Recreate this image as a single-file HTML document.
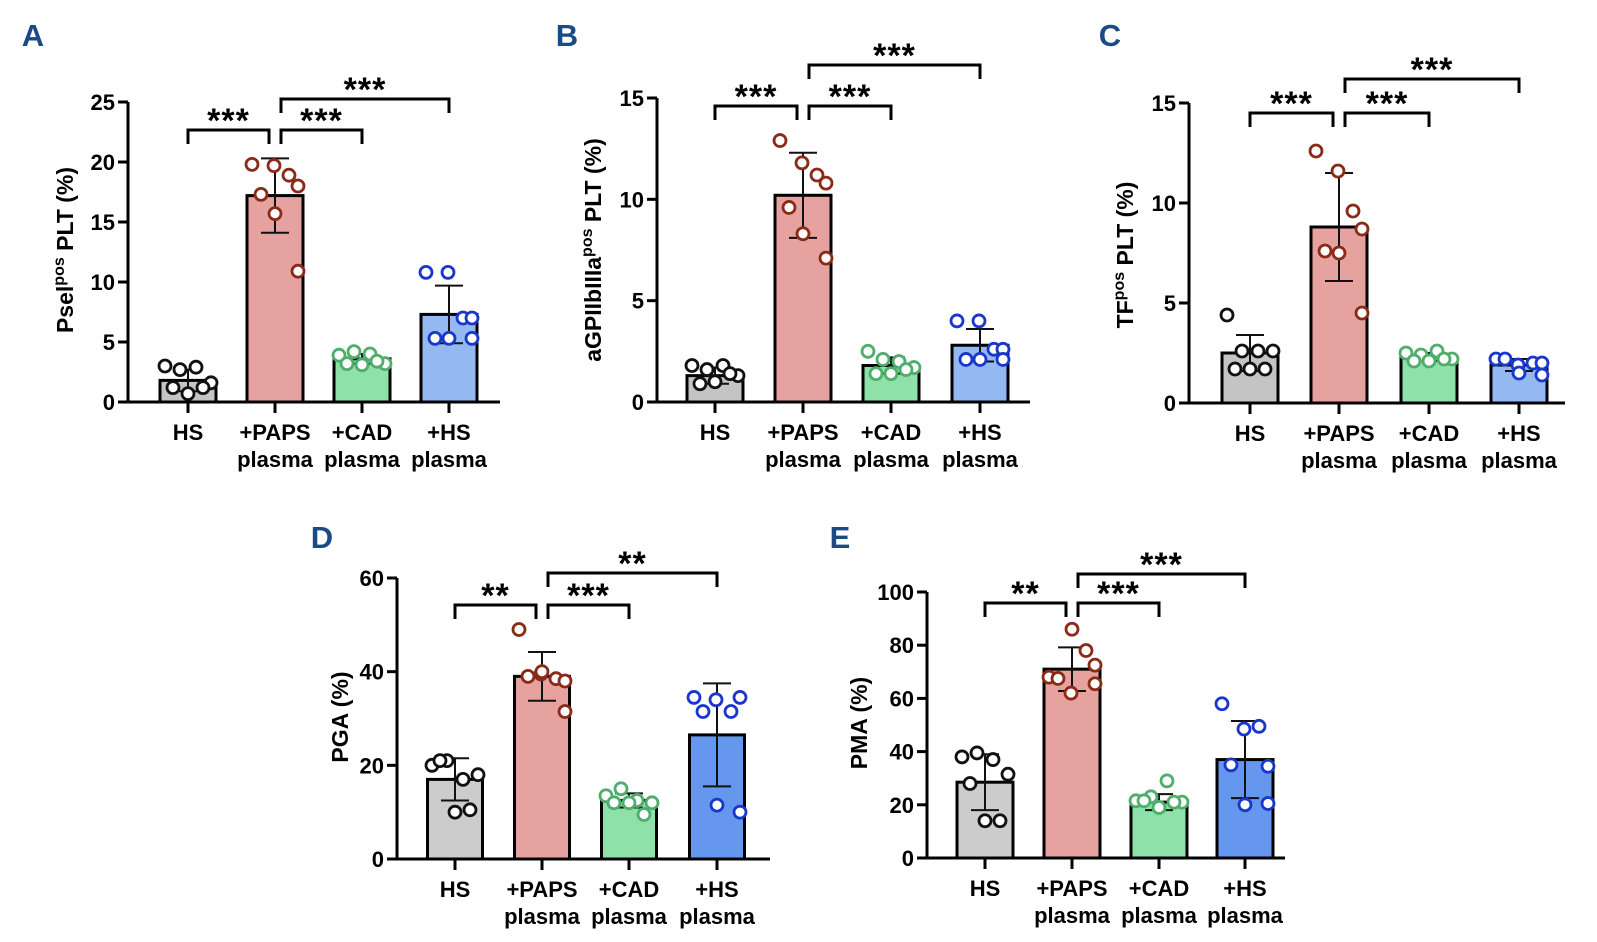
<!DOCTYPE html>
<html><head><meta charset="utf-8"><style>
body{margin:0;background:#fff;}
svg{display:block;font-family:"Liberation Sans",Arial,sans-serif;font-weight:bold;}
</style></head><body>
<svg id="fig" width="1597" height="942" viewBox="0 0 1597 942" xmlns="http://www.w3.org/2000/svg"></svg>
<script>
const categories = ["HS", "+PAPS plasma", "+CAD plasma", "+HS plasma"];
// Panel A
const meansA = [1.8, 17.2, 3.6, 7.3];
const sdA = [0.9, 3.1, 0.4, 2.4];
const ptsA = [[3.0,2.7,2.9,1.6,1.2,0.7,1.2],[19.8,19.7,18.9,18.0,17.3,15.7,10.9],[3.9,4.2,4.0,3.2,3.2,3.1,3.4],[10.8,10.8,7.0,7.0,5.3,5.3,5.3]];
const ticksA = [0,5,10,15,20,25];
// Panel B
const meansB = [1.3, 10.2, 1.8, 2.8];
const sdB = [0.4, 2.1, 0.4, 0.8];
const ptsB = [[1.8,1.6,1.8,1.3,0.9,1.0,1.4],[12.9,11.8,11.2,10.8,9.6,8.3,7.1],[2.5,2.1,2.0,1.7,1.4,1.4,1.6],[4.0,4.0,2.6,2.6,2.1,2.1,2.1]];
const ticksB = [0,5,10,15];
// Panel C
const meansC = [2.5, 8.8, 2.3, 1.9];
const sdC = [0.9, 2.7, 0.2, 0.3];
const ptsC = [[4.4,2.6,2.6,2.6,1.7,1.7,1.7],[12.6,11.6,9.6,8.7,7.6,7.5,4.5],[2.5,2.4,2.6,2.2,2.1,2.1,2.2],[2.2,1.9,2.0,2.0,2.2,1.5,1.4]];
const ticksC = [0,5,10,15];
// Panel D
const meansD = [17, 39, 12.5, 26.5];
const sdD = [4.5, 5.2, 1.5, 11];
const ptsD = [[20,21,17,18,21,10,10.5],[49,39.5,38.5,38,39,40,31.5],[13.5,15,12.5,12,12,12,9.5],[34.5,34,31.5,34.5,31.5,11.5,10]];
const ticksD = [0,20,40,60];
// Panel E
const meansE = [28.5, 71, 21, 37];
const sdE = [10.5, 8.2, 3, 14.5];
const ptsE = [[38,39.5,37,31.5,28,14,14],[68,62,78,72.5,67.5,86,65.5],[21.5,23,29,21,21.5,19,21],[58,48.5,49.5,34.5,35,20,20.5]];
const ticksE = [0,20,40,60,80,100];

const NS="http://www.w3.org/2000/svg";
const svg=document.getElementById('fig');
function mk(tag,attrs,parent){const e=document.createElementNS(NS,tag);for(const k in attrs)e.setAttribute(k,attrs[k]);(parent||svg).appendChild(e);return e;}
const jit=[[-23,-8,8,23,-15,0,15],[-23,-1,14,23,-14,0,23]];
const fills=["#c4c4c4","#e6a29f","#8ee2a9","#94b8f2"];
const fillsDE=["#cccccc","#e6a29f","#8ee2a9","#6597ee"];
const strokes=["#111","#8a2a17","#4fae6b","#1a37cc"];

function panel(cfg){
  const g=mk('g',{});
  
  
  const ymax=cfg.ticks[cfg.ticks.length-1];
  const Y=v=>cfg.y0-(v/ymax)*(cfg.y0-cfg.ytop);
  const X=i=>cfg.cx[i];
  const lt=mk('text',{x:cfg.lx,y:cfg.ly,'font-size':31,fill:'#1b4b86','text-anchor':'middle'},g);
  lt.textContent=cfg.letter;
  
  
  for(let i=0;i<4;i++){
    const w=cfg.bw;
    const b=mk('rect',{x:X(i)-w/2,y:Y(cfg.means[i]),width:w,height:cfg.y0-Y(cfg.means[i]),fill:cfg.fills[i],stroke:'#000','stroke-width':3},g);
    
    
  }
  for(let i=0;i<4;i++){
    const m=cfg.means[i],s=cfg.sd[i];
    const e=mk('path',{d:`M${X(i)} ${Y(m+s)}V${Y(m-s)}M${X(i)-14} ${Y(m+s)}h28M${X(i)-14} ${Y(m-s)}h28`,stroke:'#111','stroke-width':2,fill:'none'},g);
    
    
  }
  for(let i=0;i<4;i++){
    cfg.pts[i].forEach((v,j)=>{
      const c=mk('circle',{cx:X(i)+jit[i%2][j],cy:Y(v),r:6,fill:'#fff',stroke:strokes[i],'stroke-width':2.8},g);
      
      
    });
  }
  const ax=mk('path',{d:`M${cfg.ax} ${cfg.ytop}V${cfg.y0}M${cfg.ax-10} ${cfg.y0}H${cfg.xend}`,stroke:'#000','stroke-width':3,fill:'none'},g);
  
  
  cfg.ticks.forEach(t=>{
    mk('line',{x1:cfg.ax-10,x2:cfg.ax,y1:Y(t),y2:Y(t),stroke:'#000','stroke-width':3},g);
    const tx=mk('text',{x:cfg.ax-13,y:Y(t)+8,'font-size':22,'text-anchor':'end'},g);
    tx.textContent=t;
    
    
  });
  for(let i=0;i<4;i++){
    mk('line',{x1:X(i),x2:X(i),y1:cfg.y0,y2:cfg.y0+11,stroke:'#000','stroke-width':3},g);
    const parts=categories[i].split(' ');
    parts.forEach((p,k)=>{
      const t=mk('text',{x:X(i),y:cfg.y0+38+k*27,'font-size':22,'text-anchor':'middle'},g);
      t.textContent=p;
      
      
    });
  }
  const yt=mk('text',{x:0,y:0,'font-size':23,'text-anchor':'middle',transform:`translate(${cfg.tx},${cfg.ty}) rotate(-90)`},g);
  
  
  if(cfg.sup){
    const a=mk('tspan',{},yt);a.textContent=cfg.title[0];
    const s=mk('tspan',{dy:-9,'font-size':16},yt);s.textContent='pos';
    const c=mk('tspan',{dy:9},yt);c.textContent=cfg.title[1];
  } else yt.textContent=cfg.title;
  cfg.br.forEach(b=>{
    const xa=b[0]===1?X(1)+6:X(b[0]), xb=b[1]===1?X(1)-6:X(b[1]);
    const p=mk('path',{d:`M${xa} ${b[2]+14}V${b[2]}H${xb}V${b[2]+14}`,stroke:'#000','stroke-width':3,fill:'none'},g);
    
    
    const t=mk('text',{x:(xa+xb)/2,y:b[2]+2,'font-size':34,'text-anchor':'middle','letter-spacing':'1'},g);
    t.textContent=b[3];
    
    
  });
}
panel({letter:'A',lx:33,ly:46,ax:128,y0:402,ytop:102,xend:500,cx:[188,275,362,449],bw:56,means:meansA,sd:sdA,pts:ptsA,ticks:ticksA,fills:fills,
  sup:true,title:['Psel',' PLT (%)'],tx:73,ty:250,br:[[0,1,130,'***'],[1,2,130,'***'],[1,3,99,'***']]});
panel({letter:'B',lx:567,ly:46,ax:657,y0:402,ytop:98,xend:1030,cx:[715,803,891,980],bw:56,means:meansB,sd:sdB,pts:ptsB,ticks:ticksB,fills:fills,
  sup:true,title:['aGPIIbIIIa',' PLT (%)'],tx:601,ty:250,br:[[0,1,106,'***'],[1,2,106,'***'],[1,3,65,'***']]});
panel({letter:'C',lx:1110,ly:46,ax:1189,y0:403,ytop:103,xend:1565,cx:[1250,1339,1429,1519],bw:56,means:meansC,sd:sdC,pts:ptsC,ticks:ticksC,fills:fills,
  sup:true,title:['TF',' PLT (%)'],tx:1133,ty:255,br:[[0,1,113,'***'],[1,2,113,'***'],[1,3,79,'***']]});
panel({letter:'D',lx:322,ly:548,ax:397,y0:859,ytop:578,xend:770,cx:[455,542,629,717],bw:55,means:meansD,sd:sdD,pts:ptsD,ticks:ticksD,fills:fillsDE,
  sup:false,title:'PGA (%)',tx:348,ty:717,br:[[0,1,605,'**'],[1,2,605,'***'],[1,3,573,'**']]});
panel({letter:'E',lx:840,ly:548,ax:927,y0:858,ytop:592,xend:1285,cx:[985,1072,1159,1245],bw:56,means:meansE,sd:sdE,pts:ptsE,ticks:ticksE,fills:fillsDE,
  sup:false,title:'PMA (%)',tx:867,ty:723,br:[[0,1,603,'**'],[1,2,603,'***'],[1,3,574,'***']]});
</script>
</body></html>
